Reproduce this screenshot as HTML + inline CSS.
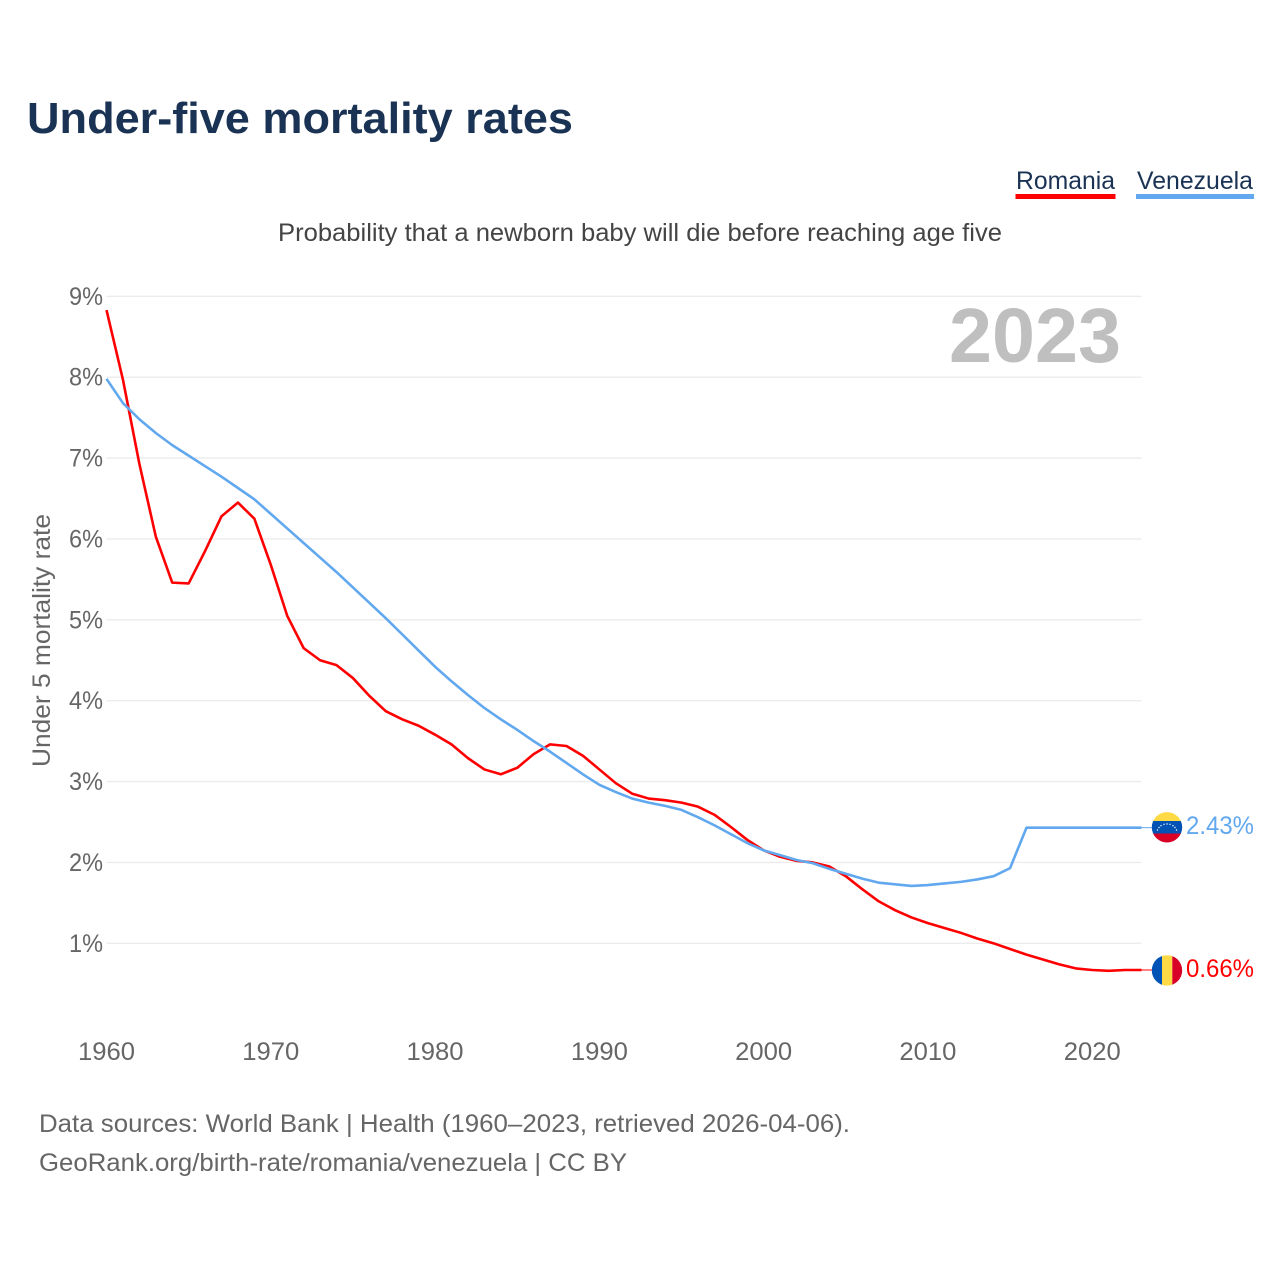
<!DOCTYPE html>
<html lang="en">
<head>
<meta charset="utf-8">
<title>Under-five mortality rates</title>
<style>
html,body{margin:0;padding:0;background:#fff;width:1280px;height:1280px;overflow:hidden}
svg{display:block}
text{font-family:"Liberation Sans",sans-serif}
</style>
</head>
<body>
<svg id="chart" xmlns="http://www.w3.org/2000/svg" width="1280" height="1280" viewBox="0 0 1280 1280">
  <text x="27" y="133" font-size="44" font-weight="700" fill="#1a3354" textLength="546" lengthAdjust="spacingAndGlyphs">Under-five mortality rates</text>
  <g>
    <g>
      <text x="1016" y="189" font-size="25" fill="#1a3354" textLength="99" lengthAdjust="spacingAndGlyphs">Romania</text>
      <rect x="1015.5" y="194" width="100" height="5" fill="#ff0000"/>
    </g>
    <g>
      <text x="1137" y="189" font-size="25" fill="#1a3354" textLength="116" lengthAdjust="spacingAndGlyphs">Venezuela</text>
      <rect x="1136" y="194" width="118" height="5" fill="#62a8ef"/>
    </g>
  </g>
  <text x="278" y="241" font-size="25" fill="#444444" textLength="724" lengthAdjust="spacingAndGlyphs">Probability that a newborn baby will die before reaching age five</text>
  <g id="grid"></g>
  <g id="yticks"></g>
  <g id="xticks"></g>
  <text transform="translate(50,767) rotate(-90)" x="0" y="0" font-size="25" fill="#666666" textLength="253" lengthAdjust="spacingAndGlyphs">Under 5 mortality rate</text>
  <text x="949" y="362" font-size="77" font-weight="700" fill="#bfbfbf" textLength="172" lengthAdjust="spacingAndGlyphs">2023</text>
  <g id="series"></g>

  <g>
    <clipPath id="clip-ve"><circle cx="1167" cy="827.3" r="15.2"/></clipPath>
    <g clip-path="url(#clip-ve)">
      <rect x="1151" y="811" width="32" height="10" fill="#ffda44"/>
      <rect x="1151" y="821" width="32" height="12.5" fill="#0052b4"/>
      <rect x="1151" y="833.5" width="32" height="10" fill="#d80027"/>
      <g fill="#ffffff">
        <circle cx="1157.5" cy="830" r="0.7"/><circle cx="1159" cy="827.5" r="0.7"/><circle cx="1161" cy="825.7" r="0.7"/><circle cx="1164" cy="824.3" r="0.7"/><circle cx="1167" cy="824" r="0.7"/><circle cx="1170" cy="824.3" r="0.7"/><circle cx="1173" cy="825.7" r="0.7"/><circle cx="1175" cy="827.5" r="0.7"/><circle cx="1176.5" cy="830" r="0.7"/>
      </g>
    </g>
  </g>
  <g>
    <clipPath id="clip-ro"><circle cx="1167" cy="970.4" r="15.2"/></clipPath>
    <g clip-path="url(#clip-ro)">
      <rect x="1151" y="954" width="11" height="33" fill="#0052b4"/>
      <rect x="1162" y="954" width="10.3" height="33" fill="#ffda44"/>
      <rect x="1172.3" y="954" width="11" height="33" fill="#d80027"/>
    </g>
  </g>
  <text id="label-ve" x="1186" y="834" font-size="25" fill="#62a8ef" textLength="68" lengthAdjust="spacingAndGlyphs">2.43%</text>
  <text id="label-ro" x="1186" y="977" font-size="25" fill="#ff0000" textLength="68" lengthAdjust="spacingAndGlyphs">0.66%</text>

  <text x="39" y="1132" font-size="25" fill="#666666" textLength="811" lengthAdjust="spacingAndGlyphs">Data sources: World Bank | Health (1960–2023, retrieved 2026-04-06).</text>
  <text x="39" y="1171" font-size="25" fill="#666666" textLength="588" lengthAdjust="spacingAndGlyphs">GeoRank.org/birth-rate/romania/venezuela | CC BY</text>
</svg>
<script>
const startYear = 1960;
const endYear = 2023;
const yTickValues = [1, 2, 3, 4, 5, 6, 7, 8, 9];
const xTickYears = [1960, 1970, 1980, 1990, 2000, 2010, 2020];
const romaniaValues = [
  8.83, 7.97, 6.93, 6.03, 5.46, 5.45, 5.85, 6.28, 6.45, 6.25,
  5.68, 5.05, 4.65, 4.50, 4.44, 4.28, 4.06, 3.87, 3.77, 3.69,
  3.58, 3.46, 3.29, 3.15, 3.09, 3.17, 3.34, 3.46, 3.44, 3.32,
  3.15, 2.98, 2.85, 2.79, 2.77, 2.74, 2.69, 2.59, 2.44, 2.28,
  2.15, 2.07, 2.02, 2.00, 1.95, 1.83, 1.67, 1.52, 1.41, 1.32,
  1.25, 1.19, 1.13, 1.06, 1.00, 0.93, 0.86, 0.80, 0.74, 0.69,
  0.67, 0.66, 0.67, 0.67
];
const venezuelaValues = [
  7.98, 7.68, 7.48, 7.31, 7.16, 7.03, 6.90, 6.77, 6.63, 6.49,
  6.31, 6.13, 5.95, 5.77, 5.59, 5.40, 5.21, 5.02, 4.82, 4.62,
  4.42, 4.24, 4.07, 3.91, 3.77, 3.64, 3.50, 3.37, 3.23, 3.09,
  2.96, 2.87, 2.79, 2.74, 2.70, 2.65, 2.56, 2.46, 2.35, 2.24,
  2.15, 2.09, 2.03, 1.99, 1.92, 1.86, 1.80, 1.75, 1.73, 1.71,
  1.72, 1.74, 1.76, 1.79, 1.83, 1.93, 2.43, 2.43, 2.43, 2.43,
  2.43, 2.43, 2.43, 2.43
];

const SVG_NS = 'http://www.w3.org/2000/svg';
const plotLeft = 106.5;
const plotRight = 1141.5;
const yZero = 1024.2;
const pxPerUnit = 80.875;
function xScale(year) {
  return plotLeft + (year - startYear) * (plotRight - plotLeft) / (endYear - startYear);
}
function yScale(value) {
  return yZero - value * pxPerUnit;
}
function make(tag, attrs) {
  const el = document.createElementNS(SVG_NS, tag);
  for (const k in attrs) el.setAttribute(k, attrs[k]);
  return el;
}

const gridGroup = document.getElementById('grid');
const yGroup = document.getElementById('yticks');
yTickValues.forEach(function (v) {
  const line = make('line', {x1: plotLeft, x2: plotRight, y1: yScale(v), y2: yScale(v), stroke: '#ececec', 'stroke-width': 1.4});
  
  
  gridGroup.appendChild(line);
  const t = make('text', {x: 103, y: yScale(v) + 8.5, 'text-anchor': 'end', 'font-size': 25, fill: '#666666', textLength: 34, lengthAdjust: 'spacingAndGlyphs'});
  
  
  t.textContent = v + '%';
  yGroup.appendChild(t);
});

const xGroup = document.getElementById('xticks');
xTickYears.forEach(function (yr) {
  const t = make('text', {x: xScale(yr), y: 1060, 'text-anchor': 'middle', 'font-size': 25, fill: '#666666', textLength: 57, lengthAdjust: 'spacingAndGlyphs'});
  
  
  t.textContent = String(yr);
  xGroup.appendChild(t);
});

function toPath(values) {
  return values.map(function (v, i) {
    return (i ? 'L' : 'M') + xScale(startYear + i).toFixed(2) + ' ' + yScale(v).toFixed(2);
  }).join(' ');
}
const seriesGroup = document.getElementById('series');

const venezuelaLine = make('path', {d: toPath(venezuelaValues), fill: 'none', stroke: '#62a8ef', 'stroke-width': 2.6, 'stroke-linejoin': 'round'});



const romaniaLine = make('path', {d: toPath(romaniaValues), fill: 'none', stroke: '#ff0000', 'stroke-width': 2.6, 'stroke-linejoin': 'round'});



seriesGroup.appendChild(romaniaLine);
seriesGroup.appendChild(venezuelaLine);

const lastVe = venezuelaValues[venezuelaValues.length - 1];
const lastRo = romaniaValues[romaniaValues.length - 1];
const leaderVe = make('line', {x1: plotRight, x2: 1152, y1: yScale(lastVe), y2: yScale(lastVe), stroke: '#62a8ef', 'stroke-width': 1});


seriesGroup.appendChild(leaderVe);
const leaderRo = make('line', {x1: plotRight, x2: 1152, y1: yScale(lastRo), y2: yScale(lastRo), stroke: '#ff0000', 'stroke-width': 1});


seriesGroup.appendChild(leaderRo);
</script>
</body>
</html>
